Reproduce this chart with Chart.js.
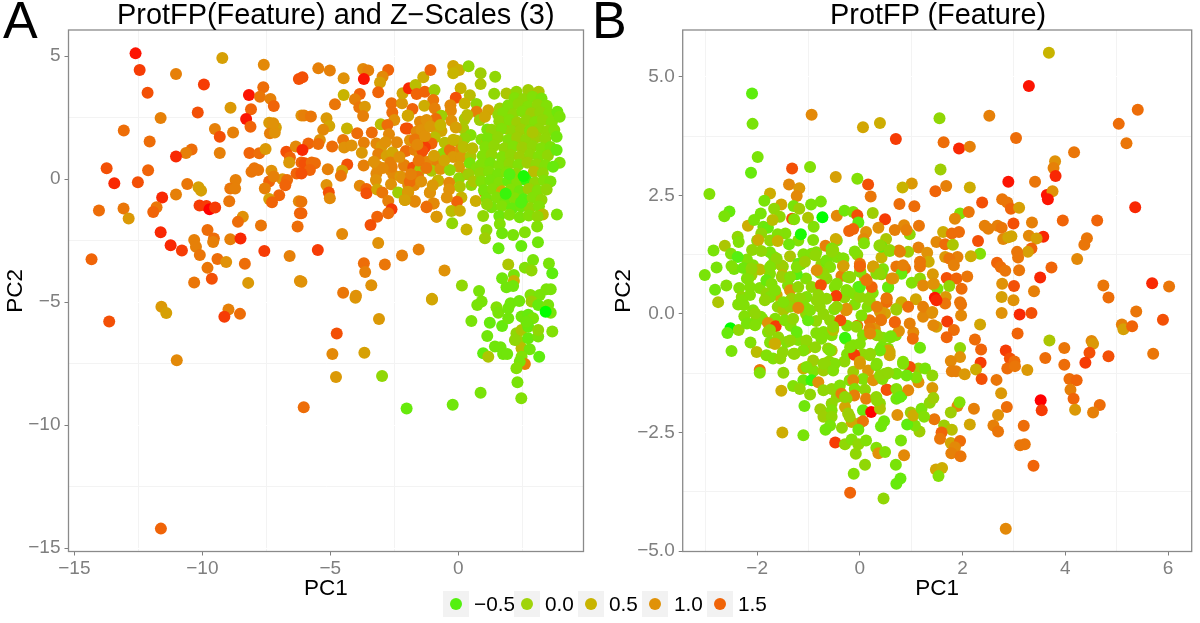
<!DOCTYPE html>
<html><head><meta charset="utf-8">
<script src="https://cdn.jsdelivr.net/npm/chart.js@4/dist/chart.umd.min.js"></script>
<style>
html,body{margin:0;padding:0;background:#fff;overflow:hidden}
#page{position:relative;width:1200px;height:623px;font-family:"Liberation Sans",Arial,sans-serif;color:#000}
canvas{position:absolute;top:0}
.t{position:absolute;white-space:nowrap;line-height:1}
.key{position:absolute;top:591px;width:26px;height:26px;background:#f2f2f2}
.key i{position:absolute;left:7px;top:7px;width:12px;height:12px;border-radius:50%}
.lab{position:absolute;top:594px;font-size:20.8px;line-height:1;white-space:nowrap}
</style></head><body>
<div id="page">
<div style="position:absolute;left:0;top:0;width:590px;height:623px"><canvas id="ca"></canvas></div>
<div style="position:absolute;left:590px;top:0;width:610px;height:623px"><canvas id="cb"></canvas></div>
<div class="t" style="left:3px;top:-6px;font-size:52px">A</div>
<div class="t" style="left:592px;top:-6px;font-size:52px">B</div>
<div class="t" id="ta" style="left:117px;top:0px;font-size:28.9px">ProtFP(Feature) and Z−Scales (3)</div>
<div class="t" id="tb" style="left:830px;top:0px;font-size:28.9px">ProtFP (Feature)</div>
<div id="legend"></div>
</div>
<script>
// ---------- Panel A values ----------
const a1x=[-12.61,-12.45,-12.14,-11.03,-9.94,-9.22,-7.6,-6.23,-7.62,-8.18,
-7.75,-7.34,-7.21,-8.1,-8.9,-10.18,-8.29,-8.12,-11.63,-13.07,
-12.06,-9.51,-8.8,-9.32,-7.39,-7.13,-7.36,-7.17,-7.23,-6.13,
-10.42,-10.64,-9.32,-11.03,-8.16,-7.78,-7.53,-6.72,-6.58,-6.35,
-6.61,-6.13,-13.74,-12.12,-13.44,-12.52,-8.08,-7.82,-7.97,-7.3,
-6.32,-8.7,-6.87,-6.69,-7.39,-7.21,-6.76,-10.59,-10.15,-10.05,
-8.91,-8.72,-7.56,-11.03,-11.57,-7.0,-7.39,-7.28,-8.95,-6.23,
-14.04,-13.08,-12.88,-11.79,-11.92,-10.11,-9.84,-9.72,-9.5,-6.19,
-8.42,-8.61,-7.71,-6.28,-11.63,-9.8,-10.32,-9.55,-9.58,-8.91,
-8.51,-11.24,-10.8,-10.25,-10.1,-7.58,-6.59,-14.33,-9.41,-9.07,
-8.34,-9.8,-9.63,-10.32,-8.21,-6.19,-13.64,-11.6,-11.41,-11.0,
-8.98,-9.14,-8.53,-3.1,-4.75,-4.92,-3.67,-4.78,-2.98,-6.04,
-2.02,-0.22,0.87,2.46,2.31,-11.62,-4.02,-1.03];
const a1y=[5.11,4.43,3.51,4.27,3.84,4.92,4.65,4.07,3.73,3.42,
3.35,3.26,2.97,2.84,2.9,2.71,2.44,2.13,2.48,1.97,
1.53,2.04,1.89,1.72,2.29,2.1,1.86,1.89,2.27,2.58,
1.2,1.06,1.06,0.92,1.06,1.05,1.22,1.11,0.88,1.32,
0.67,0.67,0.44,0.36,-0.17,-0.13,0.3,0.37,0.44,0.34,
0.23,-0.04,-0.01,-0.04,-0.1,0.1,-0.25,-0.2,-0.33,-0.47,
-0.38,-0.38,-0.38,-0.63,-0.75,-0.66,-0.81,-0.94,-0.9,-0.9,
-1.28,-1.2,-1.6,-1.15,-1.34,-1.07,-1.09,-1.23,-1.16,-1.39,
-1.53,-1.74,-1.89,-1.93,-2.16,-2.07,-2.48,-2.42,-2.56,-2.45,
-2.42,-2.69,-2.9,-2.75,-3.09,-2.92,-3.13,-3.26,-3.25,-3.37,
-3.44,-3.61,-4.05,-4.2,-4.22,-4.14,-5.79,-5.19,-5.44,-7.37,
-5.3,-5.6,-5.48,-5.69,-6.28,-7.11,-7.06,-8.05,-8.01,-9.28,
-9.33,-9.17,-8.69,-8.91,-8.26,-14.21,-4.82,-4.9];
const a1z=[1.9,1.7,1.6,1.2,1.7,0.8,1.1,1.6,1.4,1.9,
1.3,1.2,1.5,1.5,0.9,1.6,1.9,1.5,1.2,1.4,
1.4,1.2,1.2,1.6,0.9,0.8,1.2,1.0,1.0,1.0,
1.4,1.2,1.2,1.8,1.5,1.4,0.9,1.6,1.5,1.1,
0.9,1.5,1.6,1.5,1.8,1.6,1.3,1.3,1.3,1.0,
1.5,1.2,0.9,1.4,1.5,1.2,1.5,1.3,0.8,0.8,
1.3,1.2,1.2,1.2,1.8,1.5,0.8,1.5,1.3,1.1,
1.4,1.3,0.9,1.3,1.5,1.7,1.7,2.0,1.7,1.5,
1.0,1.4,1.3,1.4,1.8,1.4,1.2,1.4,1.2,1.2,
1.8,1.8,1.7,1.2,1.3,1.7,1.2,1.5,1.4,1.0,
1.4,1.3,1.6,1.3,0.9,1.0,1.6,0.9,0.8,1.1,
1.2,1.7,1.4,0.9,1.6,1.1,0.8,0.9,0.1,1.4,
-0.3,-0.2,-0.1,0.0,-0.1,1.5,0.9,0.7];

const a2x=[-6.09,-5.47,-5.02,-4.48,-3.72,-3.52,-3.69,-2.74,-2.96,-3.06,
-3.13,-3.85,-4.48,-4.04,-4.82,-3.87,-3.65,-3.72,-2.61,-2.58,
-2.2,-2.18,-1.93,-1.67,-1.37,-1.09,-1.63,-1.31,-0.93,-0.98,
-1.79,-1.33,-1.98,-2.5,-6.03,-5.76,-5.15,-5.04,-5.28,-4.35,
-3.95,-3.38,-3.03,-2.77,-2.71,-1.98,-5.41,-5.86,-5.47,-4.93,
-4.5,-4.46,-4.17,-3.69,-3.77,-3.2,-3.0,-3.13,-2.8,-2.57,
-6.09,-6.0,-5.73,-5.6,-5.8,-6.13,-5.1,-4.34,-4.54,-4.59,
-3.7,-3.16,-2.65,-3.2,-3.22,-2.65,-2.11,-2.54,-2.26,-2.63,
-5.15,-5.06,-5.02,-3.85,-3.59,-3.59,-3.17,-2.97,-2.35,-1.96,
-1.72,-1.96,-2.09,-1.7,-2.74,-6.13,-6.13,-2.61,-2.74,-3.17,
-3.43,-4.54,-3.13,-5.49,-2.2,-1.55,-3.69,-2.87,-3.64,-0.54,
-3.4,-4.5,-4.0,-6.13,-1.03,0.14,-1.11,-0.98,-1.24,-0.85,-0.79];
const a2y=[4.14,4.5,4.41,4.1,4.47,4.41,4.07,4.43,4.16,3.93,
3.53,3.46,3.42,3.24,3.04,2.92,2.94,2.56,3.08,2.71,
3.08,3.49,3.69,3.82,4.14,4.43,3.46,3.55,3.62,3.21,
2.85,2.98,2.58,2.4,2.58,2.54,2.47,2.16,2.0,2.06,
1.86,1.89,2.23,2.2,1.82,2.06,1.59,1.45,1.43,1.32,
1.59,1.28,1.36,1.48,1.07,1.45,1.32,1.02,0.94,1.09,
1.18,0.64,0.67,0.64,0.37,0.23,0.4,0.59,0.34,0.13,
0.55,0.53,0.67,0.23,-0.04,0.37,0.57,0.17,0.1,-0.21,
-0.24,-0.55,-0.78,-0.27,-0.4,-0.58,-0.42,-0.55,-0.55,-0.24,
-0.24,-0.55,-0.85,-0.89,-0.89,-0.92,-1.39,-1.23,-1.39,-1.53,
-1.87,-2.23,-2.6,-2.88,-3.11,-2.86,-3.42,-3.47,-3.78,-3.72,
-4.32,-4.62,-4.74,-4.17,-4.87,-4.33,-0.54,-0.99,-1.12,-1.53,-0.06];
const a2z=[1.6,1.2,1.2,1.0,1.1,1.2,1.9,1.5,1.1,0.8,
1.5,1.5,0.5,1.2,1.3,1.3,0.9,1.2,1.4,1.4,
0.9,0.7,1.8,0.4,0.6,1.5,1.5,1.5,0.2,1.3,
1.5,0.6,0.6,1.0,1.2,1.3,0.9,0.7,1.1,0.5,
1.4,1.4,0.4,1.4,1.1,1.6,1.0,1.5,1.4,1.4,
1.3,1.0,1.0,1.2,0.9,1.1,0.9,1.2,0.8,0.7,
1.8,1.6,1.4,1.4,1.5,1.6,1.2,1.6,0.8,1.3,
1.2,1.0,1.2,1.1,1.0,1.1,1.1,1.1,0.9,1.0,
1.0,1.6,1.1,1.1,1.5,1.6,0.7,1.3,0.2,1.1,
1.0,1.2,0.9,1.1,1.2,1.3,1.5,1.7,1.4,1.5,
1.6,1.1,1.0,1.7,1.2,1.2,1.4,1.3,1.2,1.0,
1.0,1.3,1.0,1.0,0.7,0.1,0.9,1.0,1.3,0.9,0.7];

const a3x=[-0.2,0.03,-0.2,0.4,0.87,0.87,1.44,1.4,1.88,2.27,
2.73,3.14,0.09,-0.1,0.45,0.25,-0.31,0.71,-0.92,-0.29,
0.71,1.17,1.62,2.01,-0.66,-1.96,0.25,0.84,1.04,1.56,
2.01,-0.27,-0.88,-2.05,-1.5,-1.63,-1.44,-1.24,-0.85,-0.66,
0.19,0.48,0.25,1.13,1.49,1.88,-1.89,-1.7,-1.24,-0.92,
-0.53,-0.07,0.9,1.1,-1.05,-1.31,-2.05,-1.7,-1.5,-1.4,
-0.59,-0.33,0.09,-0.2,0.12,0.48,0.03,0.45,-2.12,-1.76,
-1.48,-1.18,-0.79,-1.5,-1.05,-0.7,-0.33,0.71,0.32,-1.57,
-2.18,0.03,-0.79,-0.36,-1.74,-1.9,0.06,0.51,-0.36,-1.96,
-1.11,1.04,0.12,-1.7,0.68,-0.05,-2.09,-0.96,-1.24,-0.27,
0.06,-0.85,-0.24,0.32];
const a3y=[4.6,4.43,4.3,4.59,4.3,3.86,4.16,3.47,3.48,3.55,
3.62,3.55,3.69,3.31,3.41,3.07,3.0,3.05,2.87,2.78,
2.74,2.8,2.87,2.87,2.57,2.57,2.44,2.4,2.53,2.6,
2.4,2.37,2.44,2.06,2.33,1.92,1.99,2.4,1.99,1.95,
2.06,1.79,1.65,2.02,1.92,2.06,1.58,1.61,1.65,1.69,
1.48,1.56,1.61,1.45,1.45,1.29,1.14,1.18,0.93,1.14,
1.04,1.18,1.2,0.9,0.9,0.93,0.5,0.64,0.54,0.47,
0.64,0.7,0.64,0.37,0.34,0.41,0.37,0.43,0.2,0.09,
0.03,0.03,-0.07,-0.15,-0.24,-0.11,-0.31,-0.24,-0.42,-0.52,
-0.56,-0.56,-0.75,-0.92,-0.89,-0.92,-0.85,-0.99,-1.15,-1.3,
-1.29,-1.53,-1.8,-2.05];
const a3z=[0.7,0.6,0.5,0.1,0.2,0.3,0.1,0.1,0.3,0.1,
0.2,0.3,0.5,1.6,0.4,0.5,1.1,0.1,1.2,1.1,
1.2,0.7,0.2,0.2,0.2,0.7,0.3,0.2,0.7,0.1,
-0.3,1.0,1.4,1.6,1.1,1.1,1.0,1.0,0.6,0.7,
0.3,0.0,0.1,-0.1,0.7,0.3,1.0,1.3,0.8,0.4,
0.4,0.4,0.0,0.1,1.5,1.7,1.4,1.2,1.1,1.6,
0.1,1.3,1.1,0.9,0.9,0.3,0.8,-0.1,1.2,1.6,
1.2,1.1,1.2,0.3,0.3,1.0,0.1,0.0,0.8,1.3,
1.0,0.1,0.5,1.1,1.1,1.4,0.3,0.1,1.0,0.9,
1.0,1.3,0.5,1.1,0.6,1.5,0.8,1.1,1.4,0.4,
0.6,0.9,0.1,0.5];

const a6x=[-1.6,-1.3,-1.1,-0.7,-1.55,-1.25,-0.95,-0.55,-1.85,-1.45,
-1.0,-2.3,-2.4,-2.6,-2.85,-2.95,-3.3,-0.2,0.2,0.55,
0.4,0.6,0.35,-0.1,-0.45];
const a6y=[1.4,1.75,2.15,2.2,0.75,0.45,0.95,0.75,0.2,-0.1,
-0.25,0.9,1.5,0.5,1.5,0.45,0.7,1.6,1.3,1.25,
0.2,-0.1,2.6,2.1,-0.75];
const a6z=[1.1,1.0,0.9,0.5,1.3,1.3,0.8,0.7,1.2,1.0,
0.9,1.0,1.1,1.2,1.0,1.1,1.0,0.5,0.4,0.4,
0.2,0.3,0.4,0.8,1.0];

// dense cloud at the right of panel A
const a4x=[2.2,2.55,2.9,3.25,1.95,2.35,2.72,3.1,3.45,1.75,
2.15,2.5,2.85,3.2,3.55,3.87,1.6,2.0,2.3,2.65,
3.0,3.3,3.65,3.96,1.3,1.7,2.1,2.45,2.8,3.15,
3.5,3.75,1.15,1.55,1.95,2.3,2.65,3.05,3.4,3.84,
1.05,1.4,1.8,2.15,2.5,2.9,3.25,3.6,0.95,1.3,
1.7,2.05,2.4,2.8,3.15,3.5,3.84,0.9,1.25,1.6,
2.0,2.35,2.7,3.05,3.4,3.96,0.85,1.2,1.55,1.9,
2.25,2.95,3.3,3.7,0.9,1.25,1.6,1.95,2.3,2.65,
3.0,3.35,3.6,1.0,1.35,1.7,2.05,2.4,2.75,3.1,
3.45,1.1,1.5,1.85,2.2,2.55,2.9,3.25,1.3,1.7,
2.1,2.45,2.8,3.15,3.3,1.6,2.0,2.4,2.75,3.1,
3.85,2.55,1.85,2.0,2.9,2.45];
const a4y=[3.3,3.25,3.35,3.28,3.0,3.05,2.95,3.02,2.98,2.7,
2.65,2.75,2.68,2.72,2.66,2.74,2.35,2.4,2.3,2.38,
2.32,2.4,2.3,2.53,2.0,2.05,1.95,2.02,1.98,2.04,
1.96,2.0,1.65,1.7,1.6,1.68,1.62,1.7,1.64,1.72,
1.3,1.35,1.25,1.32,1.28,1.34,1.26,1.3,0.95,1.0,
0.9,0.98,0.92,1.0,0.94,0.96,1.18,0.6,0.65,0.55,
0.62,0.58,0.66,0.6,0.56,0.66,0.25,0.3,0.2,0.28,
0.22,0.3,0.24,0.5,-0.1,-0.05,-0.15,-0.08,-0.12,-0.04,
-0.14,-0.06,-0.1,-0.45,-0.4,-0.5,-0.42,-0.48,-0.4,-0.46,
-0.42,-0.8,-0.75,-0.85,-0.78,-0.82,-0.76,-0.84,-1.15,-1.1,
-1.2,-1.12,-1.18,-1.1,-1.44,-1.5,-1.45,-1.55,-1.48,-1.52,
-1.44,0.12,-0.6,0.2,1.9,-0.95];
const a4z=[0.0,0.1,0.0,-0.1,0.0,0.1,0.0,0.1,0.0,0.0,
0.1,0.0,0.2,0.1,0.0,-0.2,0.1,0.0,0.2,0.1,
0.0,0.1,0.0,-0.1,0.1,0.0,0.1,0.2,0.0,0.1,
0.1,0.0,-0.1,0.1,0.0,0.2,0.1,0.2,0.1,-0.2,
0.0,0.1,0.1,0.0,0.2,0.1,0.0,-0.1,0.0,0.1,
0.0,0.1,0.2,0.1,0.0,0.1,-0.3,0.0,-0.1,0.0,
0.1,0.0,0.2,0.1,0.0,-0.1,0.1,0.0,-0.1,0.0,
0.1,0.4,0.1,-0.3,0.0,-0.1,0.0,-0.3,0.0,-0.6,
0.1,0.0,-0.1,-0.1,0.0,0.5,0.0,-0.2,0.2,0.0,
0.1,-0.1,0.0,-0.2,0.0,-0.5,0.0,0.1,-0.1,0.0,
-0.3,-0.2,0.1,0.0,0.4,-0.2,0.0,-0.1,0.0,0.1,
-0.1,-0.7,-0.6,-0.5,0.3,-0.5];

const a5x=[1.12,0.97,1.1,1.04,1.57,1.62,1.71,2.14,2.6,2.46,
3.11,3.08,1.95,2.92,2.6,2.86,3.54,3.67,1.71,2.17,
2.17,1.88,2.14,0.81,0.91,0.74,0.51,1.23,1.71,1.13,
0.97,1.17,1.43,1.65,1.75,1.91,1.49,1.56,1.95,1.95,
2.04,2.38,2.82,3.18,3.44,3.61,2.86,3.12,3.51,3.61,
2.47,2.73,2.92,2.27,2.47,2.73,2.4,2.73,2.47,2.79,
2.47,2.6,2.4,2.27,3.67,3.12,3.12,3.16,2.21,2.66,3.41];
const a5y=[-1.02,-1.5,-2.07,-2.41,-2.81,-1.83,-2.2,-2.27,-2.16,-2.72,
-2.57,-1.93,-3.47,-3.29,-3.6,-3.72,-3.43,-3.83,-4.03,-3.9,
-4.14,-4.4,-4.35,-4.55,-4.98,-5.12,-5.77,-5.84,-5.97,-6.38,
-7.08,-7.22,-6.81,-6.84,-7.11,-7.11,-5.21,-5.43,-5.66,-5.25,
-5.05,-4.96,-4.71,-4.71,-4.48,-4.48,-4.98,-5.12,-5.12,-5.43,
-5.59,-5.52,-5.66,-6.27,-6.14,-6.0,-6.61,-6.47,-6.88,-6.92,
-7.22,-7.52,-7.42,-7.69,-6.2,-6.4,-6.14,-7.22,-6.54,-5.8,-5.39];
const a5z=[0.1,0.1,0.1,0.2,-0.3,0.0,-0.2,-0.1,0.0,-0.3,
-0.2,0.0,0.3,-0.1,0.0,0.1,-0.1,-0.4,-0.2,-0.1,
0.5,-0.2,-0.2,-0.1,-0.1,-0.1,-0.1,-0.3,-0.3,-0.2,
-0.4,0.3,-0.2,-0.2,-0.2,-0.2,0.0,-0.1,-0.2,-0.2,
-0.2,-0.2,0.0,-0.1,-0.1,-0.1,0.2,-0.3,-0.1,-0.1,
-0.2,-0.3,-0.1,0.1,0.3,-0.3,0.2,-0.3,0.4,-0.2,
0.0,1.2,-0.1,0.0,0.0,-0.1,0.1,-0.4,0.1,-0.2,-0.8];

// ---------- Panel B values ----------
const b6x=[-2.6,-2.45,-2.2,-2.0,-1.75,-1.45,-1.2,-1.75,-1.5,-1.15,
-0.75,-0.85,-2.2,-1.95,-2.35,-1.75,-1.4,-1.05,-0.65,-1.6,
-1.9,-2.25,-1.65,-1.35,-1.05,-0.85,-0.5,-0.3,-0.1,-0.55,
-1.2,-0.85,-1.5,-1.75,-0.25,0.15,0.25,-0.6,-0.9,-0.3,
0.05,-0.2,0.1,-0.45,0.0,-0.35,-0.25,0.45,0.7,0.45,
-0.05,-0.45];
const b6y=[0.6,0.95,1.15,1.55,1.55,1.7,1.55,1.3,1.0,1.05,
1.05,1.3,0.75,0.55,0.55,0.85,0.6,0.75,0.75,0.15,
-0.1,-0.05,-0.1,-0.25,0.0,-0.15,0.1,0.35,0.2,-0.45,
-0.55,-0.4,-0.8,-0.6,-0.25,0.15,0.45,-1.0,-1.2,-1.0,
-0.85,-1.4,-1.6,-1.75,-2.3,-2.4,-0.85,-0.5,-0.45,0.95,
1.25,1.55];
const b6z=[0.0,-0.1,0.0,0.0,0.1,0.0,0.0,-0.1,0.1,-0.1,
0.1,0.0,-0.1,0.0,0.0,0.0,0.0,0.0,0.1,0.1,
0.0,0.0,0.0,0.0,0.1,0.1,0.0,0.1,0.0,0.0,
0.0,0.0,0.1,0.0,0.0,0.0,0.0,0.1,0.0,0.1,
0.1,0.0,0.1,0.1,0.0,0.1,0.0,0.0,0.0,0.0,
0.1,0.0];

const b1x=[-2.1,-2.09,-1.99,-2.12,-2.93,-0.94,0.06,0.39,-0.97,-1.32,
-0.47,-0.05,0.16,0.21,-1.38,-1.18,-1.23,-1.75,-1.86,-1.53,
-1.67,-1.29,-1.18,-0.95,-0.76,-2.54,-2.64,-1.93,-1.56,-1.32,
-1.28,-1.01,-0.73,-0.45,-0.3,-0.13,-0.05,-0.03,0.25,0.49,
-2.18,-2.06,-1.88,-1.79,-1.7,-0.9,0.36,-0.21,-0.13,0.12,
-1.15,-1.6,-1.92,-2.38,-1.6,-1.98,-2.36,-0.91,-0.47,0.07,
0.08,0.51,-2.63,-0.67,-1.38,-0.55,0.38,-2.85,-2.1,-1.92,
-0.1,-2.51,-2.38,-1.67,-1.36,-1.1,-0.94,-0.45,-0.33,0.42,
-1.2,-2.79,-2.5,-2.27,-2.08,-1.95,-1.72,-1.53,-0.65,-0.33,
0.0,0.26,-3.02,-2.11,-1.51,-1.23,-0.78,-0.36,0.0,0.32,
0.42,-0.23,0.1,-2.17,-1.82,-2.82,-2.14,-1.72,-1.36,-1.2,
-0.94,-0.76,-0.49,-0.03,0.23,0.55,-0.26,-2.76,-2.3,-2.14,
-1.82,-1.62,-1.33,-1.04,-0.81,-0.46,-0.07,0.52,0.16];
const b1y=[4.65,4.01,3.31,2.98,2.53,4.2,3.94,4.03,3.1,3.07,
2.89,2.85,2.73,2.48,2.73,2.65,2.49,2.54,2.39,2.31,
2.22,2.28,2.22,2.31,2.37,2.16,2.06,2.12,2.05,2.01,
2.0,2.03,2.04,2.07,2.18,2.15,2.08,1.93,2.13,2.0,
1.86,1.98,1.84,1.82,1.98,1.84,1.82,1.75,1.79,1.73,
1.68,1.68,1.7,1.63,1.54,1.56,1.52,1.56,1.58,1.58,
1.49,1.58,1.44,1.44,1.47,1.38,1.44,1.34,1.35,1.33,
1.32,1.27,1.2,1.2,1.22,1.26,1.27,1.2,1.17,1.19,
1.06,0.98,1.01,0.97,1.03,0.94,1.03,1.03,1.1,1.01,
1.01,0.98,0.82,0.82,0.82,0.84,0.87,0.8,0.89,0.85,
0.84,0.78,0.75,0.75,0.71,0.51,0.57,0.64,0.5,0.57,
0.57,0.61,0.57,0.57,0.57,0.57,0.5,0.25,0.36,0.4,
0.43,0.4,0.32,0.36,0.4,0.38,0.4,0.32,0.32];
const b1z=[-0.4,-0.1,-0.1,-0.3,0.0,1.1,0.7,0.6,0.0,1.6,
0.8,0.0,1.6,1.3,1.1,0.9,1.1,0.6,-0.1,0.7,
0.1,-0.1,0.2,-0.1,-0.1,-0.3,-0.1,-0.1,0.1,1.6,
0.0,0.3,-0.8,1.1,-0.2,-0.1,1.6,-0.4,0.2,1.7,
0.6,-0.1,-0.2,-0.3,0.4,0.0,1.0,1.5,1.5,1.0,
-0.7,0.0,0.1,0.1,0.5,0.6,0.0,0.0,0.6,1.1,
0.0,0.3,0.3,1.2,-0.2,-0.1,0.0,-0.1,0.1,0.1,
0.0,0.0,-0.5,-0.1,0.3,0.0,0.0,0.0,0.1,0.5,
-0.3,-0.1,0.0,-0.2,0.0,0.4,0.0,0.2,-0.2,0.7,
1.3,0.9,-0.1,0.2,0.4,-0.5,0.0,1.2,0.1,0.0,
1.1,0.0,1.1,0.0,-0.3,-0.2,0.0,0.0,1.0,0.1,
0.1,1.6,0.0,-0.3,1.5,0.0,0.1,0.3,0.1,0.0,
0.1,0.6,0.2,0.0,0.1,1.7,0.0,1.4,0.1];

const b2x=[-2.37,-2.26,-2.08,-2.08,-1.93,-2.52,-2.58,-2.36,-2.5,-2.13,
-2.01,-1.95,-1.95,-1.79,-1.64,-1.79,-1.66,-1.43,-1.23,-1.2,
-1.49,-1.01,-0.97,-0.78,-0.71,-0.58,-0.38,-0.52,-0.27,-0.28,
-0.05,-0.13,-0.11,0.19,0.41,0.32,0.06,0.29,0.39,0.52,
-1.82,-1.69,-1.55,-1.29,-1.04,-1.1,-0.91,-0.55,-0.71,-0.49,
0.0,0.16,0.32,0.55,-1.49,-0.13,0.06,-0.13,0.26,0.49,
0.52,-1.3,-1.1,-0.94,-0.81,-1.53,-1.17,-0.97,-0.71,-0.55,
-0.39,-0.36,-0.1,-0.11,0.12,-0.26,0.32,0.39,-0.29,-0.55,
-1.08,-0.77,-0.55,0.06,0.22,0.39,-0.23,-0.71,-0.55,-0.16,
0.06,0.47,0.41,-0.58,-0.67,-0.03,-1.51,-1.1,-0.48,-0.29,
-0.16,-0.03,0.12,0.32,0.36,0.49,-0.08,0.1,-0.12,-0.19,0.46];
const b2y=[0.2,0.19,0.08,-0.2,-0.06,-0.3,-0.4,-0.34,-0.78,-0.6,
-0.8,-1.18,-1.24,-0.19,-0.26,-0.38,-0.63,-0.59,-0.38,0.13,
0.08,-0.13,0.08,0.15,-0.38,-0.13,-0.13,-0.34,0.08,-0.52,
-0.25,-0.66,-0.86,-0.13,-0.13,-0.42,-0.45,-0.31,0.08,0.25,
-0.87,-0.94,-0.94,-0.84,-0.73,-1.15,-0.98,-0.77,-1.19,-1.05,
-1.01,-1.19,-1.08,-0.77,-1.24,-1.22,-1.37,-1.4,-1.4,-1.26,
-1.6,-1.52,-1.4,-1.4,-1.44,-1.62,-1.58,-1.7,-1.61,-1.58,
-1.51,-1.68,-1.58,-1.72,-1.79,-1.79,-1.75,-1.89,-1.96,-1.89,
-1.94,-2.01,-2.03,-2.03,-2.07,-2.0,-2.1,-2.17,-2.17,-2.28,
-2.26,-2.26,-2.37,-2.35,-2.44,-2.44,-2.5,-2.56,-2.71,-2.75,
-2.65,-2.75,-2.67,-2.82,-2.94,-2.91,-2.95,-3.18,-3.37,-3.77,-3.89];
const b2z=[0.0,0.0,0.0,-0.1,0.0,-0.8,-0.3,0.1,-0.1,0.0,
0.4,1.3,0.0,1.0,1.7,0.0,0.6,0.0,-0.3,0.9,
0.3,-0.3,0.0,0.1,0.0,0.1,1.6,0.4,1.0,-0.3,
1.4,0.0,1.7,1.3,1.2,0.1,0.0,1.0,0.5,1.4,
0.0,0.0,0.1,0.1,0.4,0.6,0.2,0.4,0.2,0.0,
0.7,0.9,-0.1,0.9,0.1,0.2,0.0,1.1,1.0,0.1,
1.6,0.0,-0.2,-0.6,1.0,0.6,0.1,0.1,0.1,0.1,
0.0,1.2,0.0,1.2,1.2,0.1,0.1,0.1,0.7,0.1,
-0.2,0.2,0.0,-0.3,2.0,0.3,0.2,0.2,0.1,0.7,
1.3,-0.2,-0.2,-0.1,-0.2,-0.2,0.6,-0.1,1.7,0.1,
0.0,0.1,0.0,0.0,1.0,0.0,0.1,0.1,0.0,1.5,0.1];

const b3x=[3.68,3.29,5.41,5.04,5.19,2.52,1.55,0.7,1.63,1.93,
2.14,3.04,4.17,3.8,3.77,3.81,1.57,2.89,3.41,1.68,
1.47,1.01,0.83,2.14,3.64,3.75,3.66,5.36,2.38,2.77,
2.87,2.94,3.1,0.77,1.06,1.95,2.12,1.85,3.95,4.62,
2.99,3.35,2.43,2.5,2.68,2.76,0.86,1.15,0.68,0.97,
0.91,1.62,1.79,1.93,4.42,4.37,3.57,3.29,3.44,2.79,
2.89,2.95,2.3,1.49,1.66,1.81,1.14,0.94,0.58,0.42,
0.76,1.31,2.34,2.16,1.66,1.9,1.74,1.83,1.34,3.34,
3.27,3.06,3.08,4.23,2.67,2.74,2.83,3.1,3.73,3.51,
4.74,5.69,6.02,2.77,3.0,3.39,4.84,0.71,0.88,1.17,
0.81,0.65,0.42,1.42,1.01,1.17,1.23,1.43,1.69,1.88,
2.09,1.98,1.74,1.51,0.55,1.46,1.67,1.09,0.81,0.52,
2.76,2.99,1.95];
const b3y=[5.51,4.81,4.31,4.01,3.6,4.18,4.13,3.69,3.62,3.49,
3.53,3.71,3.41,3.22,3.08,2.91,3.05,2.79,2.79,2.7,
2.59,2.75,2.67,2.67,2.51,2.59,2.42,2.25,2.35,2.42,
2.35,2.22,2.24,2.32,2.27,2.12,2.15,2.01,1.97,1.97,
1.91,1.93,1.86,1.8,1.86,1.82,1.87,1.86,1.77,1.68,
1.77,1.73,1.7,1.73,1.6,1.46,1.63,1.65,1.59,1.58,
1.62,1.64,1.54,1.52,1.47,1.46,1.4,1.31,1.33,1.42,
1.34,1.29,1.27,1.22,1.2,1.2,1.17,1.03,1.1,1.38,
1.31,1.31,1.19,1.16,1.08,0.99,0.91,0.92,0.98,0.77,
0.6,0.65,0.58,0.64,0.59,0.48,0.35,1.0,0.96,1.0,
0.85,0.75,0.85,0.84,0.66,0.75,0.6,0.62,0.76,0.75,
0.79,0.53,0.59,0.53,0.56,0.34,0.36,0.31,0.25,0.33,
0.36,0.29,0.25];
const b3z=[0.5,1.9,1.4,1.4,1.3,1.2,0.1,1.7,1.4,1.8,
1.2,1.4,1.3,1.0,1.2,1.8,0.2,1.9,1.3,1.2,
1.5,0.9,0.5,0.6,1.9,1.0,1.9,1.8,1.6,1.3,
1.3,1.5,0.8,1.4,1.4,0.0,1.3,1.1,1.5,1.5,
1.6,1.2,1.2,1.2,1.2,1.3,1.1,1.3,1.2,0.1,
1.2,0.6,1.4,1.4,1.3,1.3,1.8,1.1,0.8,1.1,
0.7,0.7,1.6,1.1,1.4,0.3,1.2,0.2,0.0,-0.4,
1.2,1.0,0.0,0.6,0.9,1.2,1.3,1.2,0.6,1.5,
0.8,1.3,1.3,1.1,1.5,1.4,1.3,1.3,1.5,1.8,
1.3,1.8,1.3,1.0,1.6,1.2,1.4,1.3,1.3,1.3,
-0.3,0.7,-0.2,0.9,0.0,0.1,1.1,1.0,1.6,1.5,
1.3,1.4,0.1,-0.1,-0.3,1.9,0.9,0.7,0.6,1.3,
0.8,1.0,1.3];

const b4x=[2.76,3.11,3.34,5.38,5.9,5.1,5.13,5.3,2.34,1.97,
1.97,1.4,1.23,1.23,1.66,1.49,1.43,1.7,1.83,1.69,
1.04,1.03,0.97,0.68,0.76,0.71,0.49,0.6,1.17,0.55,
0.58,0.42,3.07,2.24,2.36,1.95,1.95,1.77,2.35,2.26,
1.79,1.87,2.04,2.37,2.66,2.84,2.92,3.01,2.87,3.02,
3.26,3.69,3.98,4.51,4.54,4.47,4.84,5.71,3.61,3.98,
4.39,4.08,4.22,4.1,2.75,1.41,4.16,4.19,4.67,4.54,
3.52,3.54,2.86,2.69,2.22,1.9,1.94,1.77,2.14,2.6,
2.69,3.19,3.12,3.21,3.38,2.84,1.45,1.64,1.79,1.59,
1.56,1.77,1.95,1.85,1.78,1.96,0.86,0.8,0.7,1.48,
1.6,1.53,0.79,0.71,1.16,1.07,0.92,0.73,0.99,1.04,
1.2,1.25,1.36,1.43,0.81,0.71,0.94,0.53,0.71,1.14,
1.14,1.27,1.41,1.1,0.97,0.84,0.91,0.71,0.52,0.44];
const b4y=[0.02,-0.01,0.02,0.05,-0.12,-0.22,-0.32,-0.26,-0.22,-0.03,
0.2,0.02,-0.06,0.15,0.22,-0.27,-0.24,-0.16,-0.34,-0.49,
-0.39,-0.52,-0.2,-0.18,-0.36,0.11,0.01,-0.49,-0.71,-0.73,
-0.8,-0.7,-0.41,-0.54,-0.75,-0.72,-0.91,-0.99,-1.03,-1.17,
-1.21,-1.21,-1.27,-1.37,-1.39,-0.77,-0.94,-1.0,-1.15,-1.1,
-1.18,-0.56,-0.72,-0.57,-0.63,-0.82,-0.89,-0.84,-0.93,-1.07,
-1.03,-1.37,-1.4,-1.6,-1.67,-1.56,-1.79,-2.02,-1.92,-2.08,
-1.82,-2.03,-1.96,-2.13,-2.0,-1.94,-1.86,-2.08,-2.33,-2.35,
-2.48,-2.36,-2.77,-2.75,-3.2,-4.53,-2.22,-2.35,-2.44,-2.5,
-2.63,-2.72,-2.68,-2.81,-2.94,-3.0,-2.98,-2.67,-3.18,-3.28,
-3.25,-3.42,-3.47,-3.58,-2.48,-2.35,-2.33,-2.13,-2.08,-2.14,
-2.0,-2.17,-1.87,-1.77,-1.72,-1.79,-1.61,-1.6,-1.58,-1.44,
-1.15,-1.15,-1.3,-1.34,-1.12,-1.01,-1.3,-1.26,-1.26,-1.37];
const b4z=[1.0,1.8,1.6,1.3,1.6,1.2,0.8,1.5,0.7,1.1,
1.3,1.1,1.1,1.2,1.3,0.8,1.1,1.7,1.4,1.5,
1.1,1.4,1.2,1.3,1.0,0.4,0.8,0.0,-0.2,0.0,
0.6,-0.1,1.5,1.4,1.5,0.1,1.0,1.1,1.7,0.6,
1.2,1.2,0.9,1.6,1.3,1.7,1.6,1.4,1.4,1.3,
0.9,0.3,1.3,1.1,0.9,1.6,1.6,1.3,1.4,1.4,
1.7,1.4,1.5,1.2,0.9,0.9,1.5,0.9,1.4,1.2,
2.0,1.7,1.4,1.0,1.2,1.1,0.0,0.2,0.7,1.2,
1.3,1.4,1.3,1.3,1.5,1.1,1.3,0.2,0.4,1.5,
1.3,0.7,1.4,1.1,1.2,1.3,1.1,-0.1,-0.1,0.7,
0.6,0.0,-0.3,-0.3,0.2,0.0,-0.4,1.0,0.2,0.6,
-0.1,0.0,0.1,0.2,-0.5,-0.2,1.1,1.6,0.0,1.0,
0.2,-0.1,0.1,0.0,1.6,0.0,-0.2,-0.1,0.0,0.0];

const b5x=[0.39,0.58,0.78,1.17,0.84,-0.65,-0.52,-0.32,0.0,0.26,
0.36,0.01,-0.2,0.62,1.44,-0.01,-0.13,0.19,0.94,1.41,
1.49,0.71,0.39,-0.26,0.03,0.41,-0.52,0.68,0.19,0.33,
-0.29,0.6,-0.62,0.19,0.55,0.58,0.39,0.0,0.84,0.39,
0.55,-0.68,-0.58,0.78,0.33,-0.29,-0.2,-1.75,-1.85,-1.65,
-1.52,-1.36,-1.23,-1.07,-0.87,-1.62,-1.75,-2.11,-2.3,-2.04,
-2.2,-2.04,-1.75,-1.59,-1.36,-1.49,-1.17,-1.07,-1.2,-1.46,
-1.3,-0.84,-0.65,-0.71,-0.52,-0.26,-0.45,-0.75,-1.04,-1.1,
-0.87,-1.36,-1.27,-1.65,-0.71,-0.52,-1.04,-0.19,0.0,0.2,
0.33,-0.07,0.2,-0.26,0.0,0.33,-0.45,-0.19,0.0,-0.58,
-0.71,-0.84,-0.55,-0.32,-0.32,0.0,0.26,0.13,0.39];
const b5y=[1.45,1.35,1.31,1.1,1.03,1.13,1.35,1.03,1.06,1.0,
0.89,0.89,0.77,0.75,0.64,0.57,0.43,0.29,0.15,0.04,
0.29,0.09,0.04,0.09,-0.03,-0.12,-0.31,-0.17,-0.31,-0.45,
-0.5,-0.47,-0.73,-0.87,-0.77,-0.87,-0.77,-1.05,-1.05,-1.3,
-1.24,-1.05,-0.77,-1.75,-1.82,-1.75,-2.17,0.36,0.29,0.5,
0.78,0.78,0.99,1.1,1.24,1.17,0.99,0.96,0.29,0.01,
-0.2,-0.24,-0.34,-0.49,0.15,0.25,0.33,0.15,0.13,-0.13,
-0.1,0.29,0.32,0.0,-0.27,0.11,0.15,-0.52,-0.56,-0.77,
-0.7,-0.56,-0.84,-0.63,-1.05,-1.19,-1.12,-0.7,-0.63,-0.84,
-1.05,-0.27,-0.41,0.5,0.36,0.15,0.64,0.78,0.57,0.99,
0.85,0.92,1.31,1.17,1.01,1.0,1.0,0.71,0.85];
const b5z=[0.1,0.1,1.2,1.3,1.2,-0.1,0.1,0.6,1.3,0.9,
0.1,0.0,0.1,1.0,1.0,-0.3,0.0,0.1,1.4,1.0,
1.8,0.2,0.9,1.0,0.0,1.3,0.4,1.5,1.2,0.1,
-0.6,-0.1,0.1,0.1,0.7,0.7,-0.2,0.9,0.0,0.1,
0.1,0.1,0.0,-0.3,0.1,0.1,0.2,0.0,0.1,0.0,
0.2,0.0,0.0,0.2,0.1,0.1,0.0,0.1,0.0,0.1,
-0.1,0.0,0.1,0.1,0.1,0.0,0.1,0.0,1.1,0.0,
0.1,0.1,0.1,0.1,0.1,1.0,0.1,0.0,0.1,0.0,
0.1,0.1,0.1,0.6,0.1,0.0,0.0,0.0,0.0,0.1,
0.0,0.1,1.1,0.0,0.1,1.2,0.0,0.1,-0.5,0.0,
0.1,1.0,0.1,0.0,0.8,1.5,0.8,1.3,0.1];

// ---------- Axis ticks, colour scale, legend ----------
const xTicksA=[-15,-10,-5,0];
const yTicksA=[5,0,-5,-10,-15];
const xTicksB=[-2,0,2,4,6];
const yTicksB=[5,2.5,0,-2.5,-5];
const yLabelsB=['5.0','2.5','0.0','−2.5','−5.0'];
const legendValues=['−0.5','0.0','0.5','1.0','1.5'];
const legendColors=['#55f010','#a0d40a','#c8b400','#e09208','#f06408'];
const scoreStops=[-0.8,-0.5,0,0.5,1,1.5,2];
const stopColors=[[0,255,0],[85,240,16],[130,224,6],[200,180,0],[224,146,8],[240,100,8],[255,0,0]];

function scoreColor(z){
  let i=0; while(i<scoreStops.length-2 && z>scoreStops[i+1]) i++;
  const t=Math.max(0,Math.min(1,(z-scoreStops[i])/(scoreStops[i+1]-scoreStops[i])));
  const a=stopColors[i],b=stopColors[i+1];
  return 'rgb('+a.map((v,k)=>Math.round(v+(b[k]-v)*t)).join(',')+')';
}
function rows(xs,ys,zs){
  const pts=[];xs.forEach((arr,k)=>{const n=Math.min(arr.length,ys[k].length,zs[k].length);
    for(let i=0;i<n;i++)pts.push({x:arr[i],y:ys[k][i],z:zs[k][i]});});
  return pts;
}
const framePlugin={id:'frame',afterDatasetsDraw(c){
  const a=c.chartArea,g=c.ctx;g.save();g.strokeStyle='#8a8a8a';g.lineWidth=1.3;
  g.strokeRect(a.left,a.top,a.right-a.left,a.bottom-a.top);g.restore();}};

function axis(title,min,max,step,majors,labels,size,isX){
  const isMajor=v=>majors.some(m=>Math.abs(m-v)<1e-6);
  return {type:'linear',min,max,
    title:{display:true,text:title,color:'#000',font:{family:'"Liberation Sans"',size:22.5},padding:0},
    ticks:{stepSize:step,includeBounds:false,autoSkip:false,maxRotation:0,minRotation:0,color:'#7f7f7f',
      font:{family:'"Liberation Sans"',size:19},padding:isX?2:4,
      callback(v){const i=majors.findIndex(m=>Math.abs(m-v)<1e-6);
        if(i<0)return '';
        return labels?labels[i]:String(majors[i]).replace('-','−');}},
    border:{display:false},
    grid:{drawOnChartArea:true,tickLength:4,lineWidth:1,
      color:c=>isMajor(c.tick.value)?'#ffffff':'#f3f3f3',
      tickColor:c=>isMajor(c.tick.value)?'#7f7f7f':'rgba(0,0,0,0)'},
    afterFit(s){if(isX)s.height=size;else s.width=size;}
  };
}
function panel(id,pts,xa,ya,pad){
  return new Chart(document.getElementById(id),{type:'scatter',
    data:{datasets:[{data:pts,pointRadius:6,pointHoverRadius:6,pointBorderWidth:0,
      pointBackgroundColor:pts.map(p=>scoreColor(p.z))}]},
    options:{responsive:false,animation:false,layout:{padding:pad},
      plugins:{legend:{display:false},tooltip:{enabled:false}},
      scales:{x:xa,y:ya}},plugins:[framePlugin]});
}
function size(id,w,h){const c=document.getElementById(id);c.width=w;c.height=h;c.style.width=w+'px';c.style.height=h+'px';}
size('ca',590,623);size('cb',610,623);

panel('ca',rows([a1x,a2x,a3x,a6x,a4x,a5x],[a1y,a2y,a3y,a6y,a4y,a5y],[a1z,a2z,a3z,a6z,a4z,a5z]),
  axis('PC1',-15.23,4.89,2.5,xTicksA,null,51,true),
  axis('PC2',-15.14,6.06,2.5,yTicksA,null,66,false),
  {left:2.5,top:30,right:6.5,bottom:20.5});
panel('cb',rows([b6x,b1x,b2x,b3x,b4x,b5x],[b6y,b1y,b2y,b3y,b4y,b5y],[b6z,b1z,b2z,b3z,b4z,b5z]),
  axis('PC1',-3.45,6.46,1,xTicksB,null,51,true),
  axis('PC2',-5.01,5.99,1.25,yTicksB,yLabelsB,72.2,false),
  {left:20.5,top:30,right:8.3,bottom:20.5});

const keyLeft=[443,514,578,642,707],labLeft=[474,545,609,674,738];
const lg=document.getElementById('legend');
legendValues.forEach((v,i)=>{
  const k=document.createElement('div');k.className='key';k.style.left=keyLeft[i]+'px';
  const d=document.createElement('i');d.style.background=legendColors[i];k.appendChild(d);lg.appendChild(k);
  const l=document.createElement('div');l.className='lab';l.style.left=labLeft[i]+'px';l.textContent=v;lg.appendChild(l);
});
</script>
</body></html>
